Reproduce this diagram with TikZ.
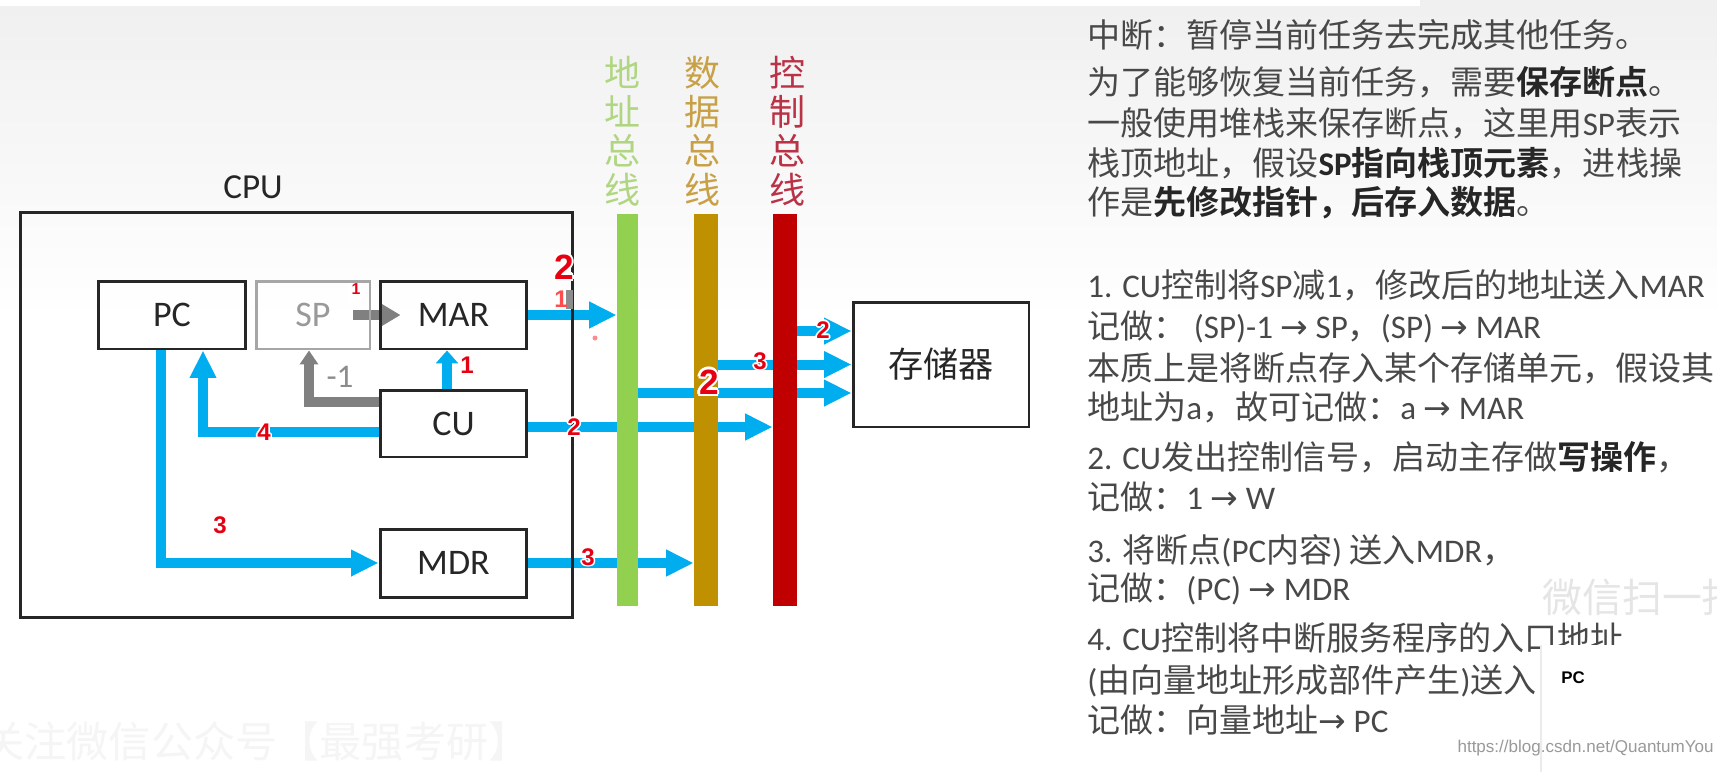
\documentclass[tikz,border=0pt]{standalone}
\usepackage{fontspec}
\setmainfont{Carlito}
\newfontfamily\cjk{Noto Sans CJK SC}[BoldFont={Noto Sans CJK SC Bold}]
\newfontfamily\arfont{DejaVu Sans}
\newfontfamily\numfont{Liberation Sans}
\usetikzlibrary{arrows.meta,calc}
\XeTeXinterchartokenstate=1
\newXeTeXintercharclass\cjkcls
\makeatletter
\def\setcjkrange#1#2{\count@=#1\relax\loop\XeTeXcharclass\count@=\cjkcls\relax\ifnum\count@<#2\relax\advance\count@\@ne\repeat}
\makeatother
\setcjkrange{"3000}{"303F}
\setcjkrange{"4E00}{"9FFF}
\setcjkrange{"FF00}{"FFEF}
\XeTeXinterchartoks 0 \cjkcls = {\begingroup\cjk}
\XeTeXinterchartoks 4095 \cjkcls = {\begingroup\cjk}
\XeTeXinterchartoks \cjkcls 0 = {\endgroup}
\XeTeXinterchartoks \cjkcls 4095 = {\endgroup}
\definecolor{cblue}{RGB}{0,174,239}
\definecolor{agreen}{RGB}{146,208,80}
\definecolor{dgold}{RGB}{191,144,0}
\definecolor{cred}{RGB}{192,0,0}
\definecolor{agreenl}{RGB}{176,214,130}
\definecolor{dgoldl}{RGB}{200,160,70}
\definecolor{credl}{RGB}{185,50,70}
\definecolor{textgray}{RGB}{72,72,72}
\definecolor{rnred}{RGB}{230,0,18}
\newcommand\hl[1]{{\bfseries\color{black!85}#1}}
\newcommand\rarr{{\arfont →}}
\newcommand\halo[1]{%
 \rlap{\kern.07em\textcolor{white}{#1}}%
 \rlap{\kern-.07em\textcolor{white}{#1}}%
 \rlap{\raisebox{.07em}{\textcolor{white}{#1}}}%
 \rlap{\raisebox{-.07em}{\textcolor{white}{#1}}}%
 \rlap{\kern.05em\raisebox{.05em}{\textcolor{white}{#1}}}%
 \rlap{\kern-.05em\raisebox{.05em}{\textcolor{white}{#1}}}%
 \rlap{\kern.05em\raisebox{-.05em}{\textcolor{white}{#1}}}%
 \rlap{\kern-.05em\raisebox{-.05em}{\textcolor{white}{#1}}}%
 #1}
\pgfdeclarelayer{back}
\pgfdeclarelayer{arr}
\pgfsetlayers{back,arr,main}
\begin{document}
\begin{tikzpicture}[x=0.02cm,y=-0.02cm,
  reg/.style={draw=black!85, line width=1.7pt, inner sep=0pt, font=\fontsize{20.5}{24}\selectfont, text=black!85},
  blu/.style={draw=cblue, line width=0.2cm, -{Triangle[length=0.55cm,width=0.5cm]}},
  gry/.style={draw=black!50, line width=0.19cm, -{Triangle[length=0.38cm,width=0.42cm]}},
  rt/.style={anchor=west, inner sep=0pt, text=textgray, font=\fontsize{18.8}{22}\selectfont, text height=16pt, text depth=2pt},
  rn/.style={inner sep=0pt, text=rnred, font=\numfont\bfseries\fontsize{13.7}{14}\selectfont},
  rnb/.style={inner sep=0pt, text=rnred, font=\numfont\bfseries\fontsize{20}{22}\selectfont},
  busl/.style={align=center, inner sep=0pt, font=\fontsize{20.5}{22.2}\selectfont},
  busbar/.style={inner sep=0pt, minimum height=7.84cm}
]
\useasboundingbox (0,0) rectangle (1717,772);
\begin{pgfonlayer}{back}
\fill[white] (0,0) rectangle (1717,772);
\shade[top color=black!6, bottom color=white] (0,0) rectangle (1717,320);
\fill[white] (0,0) rectangle (1420,6);
\end{pgfonlayer}

% watermarks
\node[anchor=west, inner sep=0pt, text=black!4, font=\fontsize{24}{26}\selectfont] (wm1) at (-18,742) {关注微信公众号【最强考研】};

% CPU
\node[draw=black!85, line width=1.7pt, minimum width=11.06cm, minimum height=8.12cm, inner sep=0pt] (cpu) at (296.5,415) {};
\node[inner sep=0pt, font=\fontsize{20}{24}\selectfont, text=black!85] (cpul) at (253,187) {CPU};

\node[reg, minimum width=2.96cm, minimum height=1.36cm] (pc) at (172,315) {PC};
\node[reg, draw=black!35, text=black!40, minimum width=2.28cm, minimum height=1.36cm] (sp) at (313,315) {SP};
\node[reg, minimum width=2.94cm, minimum height=1.36cm] (mar) at (453.5,315) {MAR};
\node[reg, minimum width=2.94cm, minimum height=1.34cm] (cu) at (453.5,423.5) {CU};
\node[reg, minimum width=2.94cm, minimum height=1.36cm] (mdr) at (453.5,563) {MDR};
\node[reg, minimum width=3.52cm, minimum height=2.5cm, font=\fontsize{20}{24}\selectfont] (mem) at (941,364.5) {存储器};

% buses
\node[busbar, fill=agreen, minimum width=0.42cm] (abus) at (627.5,410) {};
\node[busbar, fill=dgold, minimum width=0.48cm] (dbus) at (706,410) {};
\node[busbar, fill=cred, minimum width=0.48cm] (cbus) at (785,410) {};
\node[busl, text=agreenl] (abl) at (623,131) {地\\址\\总\\线};
\node[busl, text=dgoldl] (dbl) at (702,131) {数\\据\\总\\线};
\node[busl, text=credl] (cbl) at (787,131) {控\\制\\总\\线};

\coordinate (cuo) at ($(cu.east)+(0,3.5)$);
\coordinate (ma) at ($(mem.west)+(0,28.5)$);
\coordinate (mc) at ($(mem.west)+(0,-33.5)$);
\begin{pgfonlayer}{arr}
\draw[blu] (mar.east) -- (mar.east -| abus.west);
\draw[blu, -{Triangle[length=0.26cm,width=0.44cm]}] ($(cu.north)+(-6.5,0)$) -- ($(mar.south)+(-6.5,0)$);
\draw[gry, -{Triangle[length=0.28cm,width=0.36cm]}] ($(cu.west)+(0,-21.5)$) -| ($(sp.south)+(-4,0)$);
\draw[gry] ($(sp.east)+(-18,0)$) -- ($(mar.west)+(22,0)$);
\draw[blu] ($(cu.west)+(0,8.5)$) -| ($(pc.south)+(31,0)$);
\draw[blu] ($(pc.south)+(-11,0)$) |- (mdr.west);
\draw[blu] (mdr.east) -- (mdr.east -| dbus.west);
\draw[blu] (cuo) -- (cuo -| cbus.west);
\draw[blu] (ma -| abus.east) -- (ma);
\draw[blu] (mem.west -| dbus.east) -- (mem.west);
\draw[blu] (mc -| cbus.east) -- (mc);
\end{pgfonlayer}

% step labels
\node[rn] (l1) at (467,365) {\halo{1}};
\node[rn] (l4) at (264,432) {\halo{4}};
\node[rn] (l3a) at (220,525) {\halo{3}};
\node[rn] (l2a) at (574,427) {\halo{2}};
\node[rn] (l3b) at (588,557) {\halo{3}};
\node[rnb] (l2b) at (564,267) {\halo{2}};
\node[rnb] (l2c) at (709,382) {\halo{2}};
\node[rn] (l3c) at (760,361) {\halo{3}};
\node[rn] (l2d) at (823,330) {\halo{2}};
\node[inner sep=0pt, text=black!45, font=\fontsize{18.8}{20}\selectfont] (m1) at (340,377) {-1};

% small artefacts
\fill[black!45] (566,290) rectangle (573,309);
\node[rn, text=red!70] (l1b) at (561,299) {1};
\fill[red!45] (595,338) circle (0.05cm);
\fill[white] (348,284) rectangle (361,303);
\node[inner sep=0pt, text=rnred, font=\numfont\bfseries\fontsize{9}{10}\selectfont] (l1c) at (356,289) {1};

% right text
\node[rt] (t1) at (1087,35) {中断：暂停当前任务去完成其他任务。};
\node[rt] (t2) at (1087,82) {为了能够恢复当前任务，需要\hl{保存断点}。};
\node[rt] (t3) at (1087,123) {一般使用堆栈来保存断点，这里用SP表示};
\node[rt] (t4) at (1087,163) {栈顶地址，假设\hl{SP指向栈顶元素}，进栈操};
\node[rt] (t5) at (1087,202) {作是\hl{先修改指针，后存入数据}。};
\node[rt] (t6) at (1087,285) {1. CU控制将SP减1，修改后的地址送入MAR};
\node[rt] (t7) at (1087,326) {记做： (SP)-1 \rarr{} SP，(SP) \rarr{} MAR};
\node[rt] (t8) at (1087,368) {本质上是将断点存入某个存储单元，假设其};
\node[rt] (t9) at (1087,407) {地址为a，故可记做：a \rarr{} MAR};
\node[rt] (t10) at (1087,457) {2. CU发出控制信号，启动主存做\hl{写操作}，};
\node[rt] (t11) at (1087,497) {记做：1 \rarr{} W};
\node[rt] (t12) at (1087,550) {3. 将断点(PC内容) 送入MDR，};
\node[rt] (t13) at (1087,588) {记做：(PC) \rarr{} MDR};
\node[rt] (t14) at (1087,638) {4. CU控制将中断服务程序的入口地址};
\node[rt] (t15) at (1087,680) {(由向量地址形成部件产生)送入};
\node[rt] (t16) at (1087,720) {记做：向量地址\rarr{} PC};

\node[anchor=west, inner sep=0pt, text=black!10, font=\fontsize{22.7}{24}\selectfont] (wm2) at (1542,597) {微信扫一扫};
\fill[white] (1541,645) rectangle (1730,780);
\draw[black!8, line width=0.6pt] (1541,645) -- (1541,772);
\node[inner sep=0pt, font=\numfont\bfseries\fontsize{9.6}{11}\selectfont] (pcs) at (1573,678) {PC};
\node[anchor=east, inner sep=0pt, text=black!40, font=\numfont\fontsize{9.7}{11}\selectfont] (url) at (1714,748) {https://blog.csdn.net/QuantumYou};
\end{tikzpicture}
\end{document}
